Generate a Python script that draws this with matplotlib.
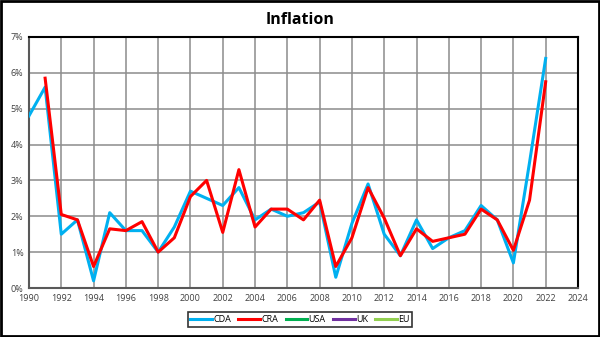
import matplotlib.pyplot as plt
from matplotlib.patches import Rectangle
from matplotlib.ticker import PercentFormatter, MultipleLocator

plt.rcParams['font.family'] = ['Open Sans', 'DejaVu Sans']

years_cda = list(range(1990, 2023))
cda = [4.8, 5.6, 1.5, 1.9, 0.2, 2.1, 1.6, 1.6, 1.0, 1.7,
       2.7, 2.5, 2.3, 2.8, 1.9, 2.2, 2.0, 2.1, 2.4, 0.3,
       1.8, 2.9, 1.5, 0.9, 1.9, 1.1, 1.4, 1.6, 2.3, 1.9,
       0.7, 3.5, 6.4]

years_cra = list(range(1991, 2023))
cra = [5.85, 2.05, 1.9, 0.6, 1.65, 1.6, 1.85, 1.0, 1.4,
       2.55, 3.0, 1.55, 3.3, 1.7, 2.2, 2.2, 1.9, 2.45, 0.6,
       1.4, 2.8, 1.95, 0.9, 1.65, 1.3, 1.4, 1.5, 2.2, 1.9,
       1.05, 2.45, 5.75]

# no data for these yet, kept for the legend
usa = []
uk = []
eu = []

fig = plt.figure(figsize=(6, 3.37), dpi=100)
ax = fig.add_axes([0.0483, 0.1454, 0.915, 0.745])

ax.plot(years_cda, cda, color='#00b0f0', lw=2.2, label='CDA', zorder=3)
ax.plot(years_cra, cra, color='#ff0000', lw=2.2, label='CRA', zorder=4)
ax.plot([], usa, color='#00b050', lw=2.2, label='USA')
ax.plot([], uk, color='#7030a0', lw=2.2, label='UK')
ax.plot([], eu, color='#92d050', lw=2.2, label='EU')

ax.set_xlim(1990, 2024)
ax.set_ylim(0, 7)
ax.xaxis.set_major_locator(MultipleLocator(2))
ax.yaxis.set_major_locator(MultipleLocator(1))
ax.yaxis.set_major_formatter(PercentFormatter(decimals=0))
ax.grid(True, color='#8c8c8c', lw=1.1)
ax.set_axisbelow(True)
ax.tick_params(labelsize=6.5, labelcolor='#404040', length=0, pad=4)

for side in ['top', 'right']:
    ax.spines[side].set_color('black')
    ax.spines[side].set_linewidth(1.5)
for side in ['left', 'bottom']:
    ax.spines[side].set_color('#595959')
    ax.spines[side].set_linewidth(1.5)

fig.text(0.5, 0.94, 'Inflation', ha='center', va='center',
         fontsize=11.5, fontweight='bold')

leg = fig.legend(loc='center', bbox_to_anchor=(0.5, 0.052), ncol=5,
                 fontsize=6.5, frameon=True, fancybox=False,
                 handlelength=2.4, handletextpad=0.15, columnspacing=0.8,
                 borderpad=0.3)
leg.get_frame().set_edgecolor('black')
leg.get_frame().set_linewidth(1.2)

fig.patches.append(Rectangle((0.002, 0.003), 0.996, 0.994, transform=fig.transFigure,
                             fill=False, edgecolor='black', lw=2))

fig.savefig('out.png', dpi=100)
